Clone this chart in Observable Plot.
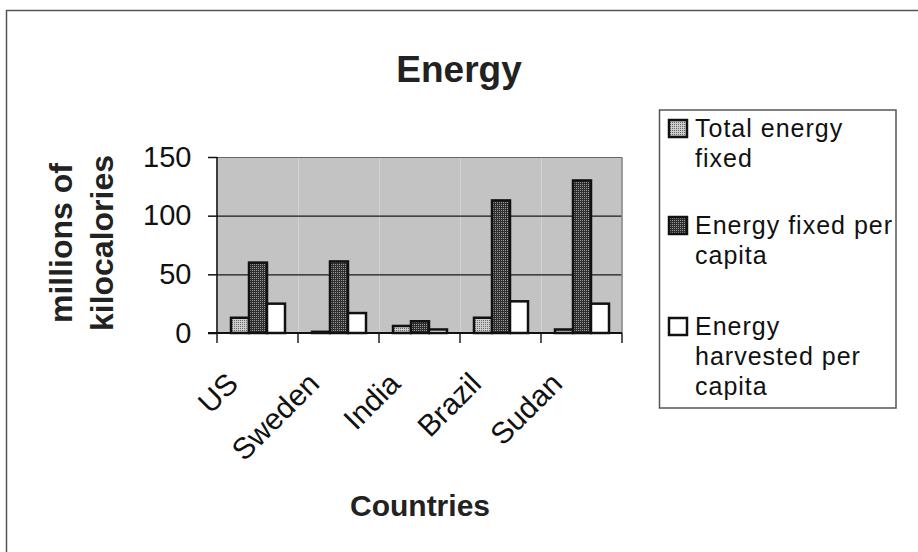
<!DOCTYPE html>
<html>
<head>
<meta charset="utf-8">
<script src="https://cdn.jsdelivr.net/npm/d3@7"></script>
<script src="https://cdn.jsdelivr.net/npm/@observablehq/plot@0.6"></script>
<style>
  html, body { margin: 0; padding: 0; background: #fff; }
  #chart { width: 918px; height: 552px; overflow: hidden; }
</style>
</head>
<body>
<div id="chart"></div>
<script>
// ---- data ----
const countries = ["US", "Sweden", "India", "Brazil", "Sudan"];
const seriesNames = ["Total energy fixed", "Energy fixed per capita", "Energy harvested per capita"];
const totalFixed = [13, 1, 6, 13, 3];
const fixedPerCapita = [60, 61, 10, 113, 130];
const harvestedPerCapita = [25, 17, 3, 27, 25];
const yTicks = [0, 50, 100, 150];
const gridValues = [50, 100];
const legendLines = [["Total energy", "fixed"], ["Energy fixed per", "capita"], ["Energy", "harvested per", "capita"]];
const titleText = "Energy";
const xLabel = "Countries";
const yLabelLines = ["millions of", "kilocalories"];

const seriesValues = [totalFixed, fixedPerCapita, harvestedPerCapita];
const rows = countries.flatMap((c, i) =>
  seriesNames.map((s, j) => ({country: c, series: s, value: seriesValues[j][i]}))
);
const fills = ["url(#pTotal)", "url(#pFixed)", "#ffffff"];

const W = 918, H = 552;
const chart = Plot.plot({
  width: W, height: H,
  marginLeft: 217, marginRight: 296, marginTop: 157, marginBottom: 219,
  style: {fontFamily: "'Liberation Sans', Arial, sans-serif", fontSize: "29px", color: "#111", background: "#fff", overflow: "visible"},
  fx: {domain: countries, padding: 0, axis: null},
  x: {domain: seriesNames, paddingInner: 0, paddingOuter: 0.665, axis: null},
  y: {domain: [0, 150], ticks: yTicks, tickSize: 9, tickPadding: 17, label: null, tickFormat: d => String(d)},
  color: {type: "ordinal", domain: seriesNames, range: fills},
  marks: [
    Plot.frame({fill: "url(#pBg)", stroke: "none"}),
    Plot.ruleY([150], {stroke: "#666", strokeWidth: 1.2}),
    Plot.ruleY(gridValues, {stroke: "#1a1a1a", strokeWidth: 1.4}),
    Plot.barY(rows, {fx: "country", x: "series", y: "value", fill: "series", stroke: "#111", strokeWidth: 2.5}),
    Plot.text(countries, {fx: d => d, text: d => d, frameAnchor: "bottom", rotate: -45, textAnchor: "end", dx: -18, dy: 52, fontSize: 30, fill: "#111"})
  ]
});
document.getElementById("chart").appendChild(chart);

const svg = d3.select(chart);
// patterns
const defs = svg.insert("defs", ":first-child");
function pattern(id, base, dot) {
  const p = defs.append("pattern").attr("id", id).attr("width", 2).attr("height", 2).attr("patternUnits", "userSpaceOnUse");
  p.append("rect").attr("width", 2).attr("height", 2).attr("fill", base);
  p.append("rect").attr("x", 0).attr("y", 0).attr("width", 1).attr("height", 1).attr("fill", dot);
}
pattern("pBg", "#d6d6d6", "#8a8a8a");
pattern("pTotal", "#cdcdcd", "#666666");
pattern("pFixed", "#2e2e2e", "#9a9a9a");

const fx = chart.scale("fx");
const y = chart.scale("y");
const x0 = fx.range[0], x1 = fx.range[1];
const yTop = y.apply(150), yBase = y.apply(0);

const g = svg.append("g").attr("text-anchor", "start");
// plot-area right border
g.append("line").attr("x1", x1).attr("x2", x1).attr("y1", yTop).attr("y2", yBase).attr("stroke", "#888").attr("stroke-width", 1.5);
// axes
g.append("line").attr("x1", x0).attr("x2", x0).attr("y1", yTop).attr("y2", yBase).attr("stroke", "#111").attr("stroke-width", 1.6);
g.append("line").attr("x1", x0 - 9).attr("x2", x1).attr("y1", yBase).attr("y2", yBase).attr("stroke", "#111").attr("stroke-width", 2);
const bounds = countries.map(c => fx.apply(c)).concat([x1]);
bounds.forEach(b => {
  g.append("line").attr("x1", b).attr("x2", b).attr("y1", yBase).attr("y2", yBase + 10).attr("stroke", "#111").attr("stroke-width", 1.4);
});
svg.selectAll("[aria-label='y-axis tick'] path, [aria-label='y-axis'] path").attr("stroke-width", 1.5);

// outer border
g.append("path").attr("d", `M6.5,${H} L6.5,10.5 L${W},10.5`).attr("fill", "none").attr("stroke", "#555").attr("stroke-width", 1.5);

// title & axis labels
g.append("text").attr("x", 459).attr("y", 82).attr("text-anchor", "middle").attr("font-weight", "bold").attr("font-size", 37).attr("fill", "#222").text(titleText);
g.append("text").attr("x", 420).attr("y", 516).attr("text-anchor", "middle").attr("font-weight", "bold").attr("font-size", 30).attr("fill", "#222").text(xLabel);
yLabelLines.forEach((t, i) => {
  g.append("text").attr("transform", `translate(${72 + i * 41},243) rotate(-90)`).attr("text-anchor", "middle")
    .attr("font-weight", "bold").attr("font-size", 32).attr("fill", "#222").text(t);
});

// legend
const lg = g.append("g").attr("text-anchor", "start");
lg.append("rect").attr("x", 659.5).attr("y", 110).attr("width", 236.5).attr("height", 298).attr("fill", "#fff").attr("stroke", "#555").attr("stroke-width", 1.5);
const firstBaselines = [137, 234, 335];
legendLines.forEach((lines, k) => {
  const b = firstBaselines[k];
  lg.append("rect").attr("x", 669).attr("y", b - 17).attr("width", 18).attr("height", 17)
    .attr("fill", fills[k]).attr("stroke", "#111").attr("stroke-width", 2.5);
  lines.forEach((t, li) => {
    lg.append("text").attr("x", 695).attr("y", b + li * 30).attr("text-anchor", "start").attr("font-size", 25).attr("letter-spacing", 1).attr("fill", "#111").text(t);
  });
});
</script>
</body>
</html>
